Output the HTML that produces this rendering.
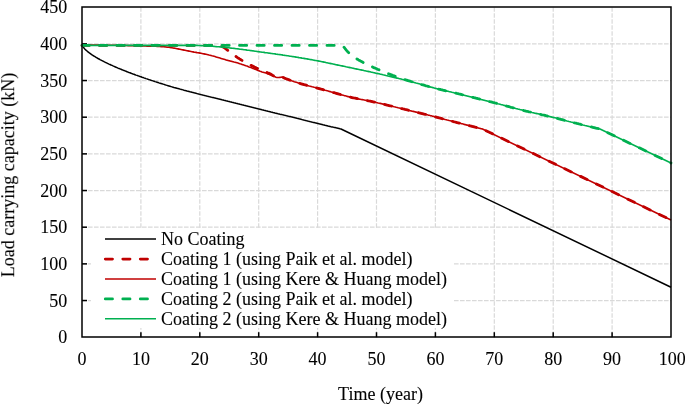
<!DOCTYPE html>
<html><head><meta charset="utf-8"><style>
html,body{margin:0;padding:0;background:#fff;width:685px;height:404px;overflow:hidden}
svg{display:block}
.g{stroke:#d9d9d9;stroke-width:1.2;stroke-dasharray:4.6 1.4;fill:none}
.ax{stroke:#000;stroke-width:1.5}
.dash{fill:none;stroke-width:2.8;stroke-dasharray:7.2 10.3;stroke-linecap:round;stroke-linejoin:round}
.t{font-family:"Liberation Serif",serif;font-size:18px;fill:#000;stroke:#000;stroke-width:0.1px}
text{will-change:transform}
</style></head><body>
<svg width="685" height="404" viewBox="0 0 685 404">
<line x1="82.0" y1="300.53" x2="671.0" y2="300.53" class="g"/>
<line x1="82.0" y1="263.87" x2="671.0" y2="263.87" class="g"/>
<line x1="82.0" y1="227.20" x2="671.0" y2="227.20" class="g"/>
<line x1="82.0" y1="190.53" x2="671.0" y2="190.53" class="g"/>
<line x1="82.0" y1="153.87" x2="671.0" y2="153.87" class="g"/>
<line x1="82.0" y1="117.20" x2="671.0" y2="117.20" class="g"/>
<line x1="82.0" y1="80.53" x2="671.0" y2="80.53" class="g"/>
<line x1="82.0" y1="43.87" x2="671.0" y2="43.87" class="g"/>
<line x1="140.90" y1="7.2" x2="140.90" y2="337.2" class="g"/>
<line x1="199.80" y1="7.2" x2="199.80" y2="337.2" class="g"/>
<line x1="258.70" y1="7.2" x2="258.70" y2="337.2" class="g"/>
<line x1="317.60" y1="7.2" x2="317.60" y2="337.2" class="g"/>
<line x1="376.50" y1="7.2" x2="376.50" y2="337.2" class="g"/>
<line x1="435.40" y1="7.2" x2="435.40" y2="337.2" class="g"/>
<line x1="494.30" y1="7.2" x2="494.30" y2="337.2" class="g"/>
<line x1="553.20" y1="7.2" x2="553.20" y2="337.2" class="g"/>
<line x1="612.10" y1="7.2" x2="612.10" y2="337.2" class="g"/>
<line x1="82.0" y1="300.53" x2="87.0" y2="300.53" class="ax"/>
<line x1="82.0" y1="263.87" x2="87.0" y2="263.87" class="ax"/>
<line x1="82.0" y1="227.20" x2="87.0" y2="227.20" class="ax"/>
<line x1="82.0" y1="190.53" x2="87.0" y2="190.53" class="ax"/>
<line x1="82.0" y1="153.87" x2="87.0" y2="153.87" class="ax"/>
<line x1="82.0" y1="117.20" x2="87.0" y2="117.20" class="ax"/>
<line x1="82.0" y1="80.53" x2="87.0" y2="80.53" class="ax"/>
<line x1="82.0" y1="43.87" x2="87.0" y2="43.87" class="ax"/>
<line x1="140.90" y1="337.2" x2="140.90" y2="332.2" class="ax"/>
<line x1="199.80" y1="337.2" x2="199.80" y2="332.2" class="ax"/>
<line x1="258.70" y1="337.2" x2="258.70" y2="332.2" class="ax"/>
<line x1="317.60" y1="337.2" x2="317.60" y2="332.2" class="ax"/>
<line x1="376.50" y1="337.2" x2="376.50" y2="332.2" class="ax"/>
<line x1="435.40" y1="337.2" x2="435.40" y2="332.2" class="ax"/>
<line x1="494.30" y1="337.2" x2="494.30" y2="332.2" class="ax"/>
<line x1="553.20" y1="337.2" x2="553.20" y2="332.2" class="ax"/>
<line x1="612.10" y1="337.2" x2="612.10" y2="332.2" class="ax"/>
<polyline points="82.0,44.3 83.0,46.7 84.0,48.1 85.0,49.2 86.0,50.2 87.0,51.0 88.0,51.9 89.0,52.7 90.0,53.4 91.0,54.1 92.0,54.8 93.0,55.5 94.0,56.1 95.0,56.7 96.0,57.3 97.0,57.9 98.0,58.5 99.0,59.0 100.0,59.6 101.0,60.1 102.0,60.6 103.0,61.1 104.0,61.7 105.0,62.2 106.0,62.6 107.0,63.1 108.0,63.6 109.0,64.1 110.0,64.5 111.0,65.0 112.0,65.4 113.0,65.9 114.0,66.3 115.0,66.8 116.0,67.2 117.0,67.6 118.0,68.1 119.0,68.5 120.0,68.9 121.0,69.3 122.0,69.7 123.0,70.1 124.0,70.5 125.0,70.9 126.0,71.3 127.0,71.7 128.0,72.1 129.0,72.5 130.0,72.8 131.0,73.2 132.0,73.6 133.0,74.0 134.0,74.3 135.0,74.7 136.0,75.1 137.0,75.4 138.0,75.8 139.0,76.1 140.0,76.5 141.0,76.8 142.0,77.2 143.0,77.5 144.0,77.9 145.0,78.2 146.0,78.6 147.0,78.9 148.0,79.3 149.0,79.6 150.0,79.9 151.0,80.3 152.0,80.6 153.0,80.9 154.0,81.2 155.0,81.6 156.0,81.9 157.0,82.2 158.0,82.5 159.0,82.9 160.0,83.2 161.0,83.5 162.0,83.8 163.0,84.1 164.0,84.4 165.0,84.8 166.0,85.1 167.0,85.4 168.0,85.7 169.0,86.0 170.0,86.3 171.0,86.6 172.0,86.9 173.0,87.2 174.0,87.5 175.0,87.7 176.0,88.0 177.0,88.3 178.0,88.6 179.0,88.8 180.0,89.1 181.0,89.4 182.0,89.6 183.0,89.9 184.0,90.2 185.0,90.4 186.0,90.7 187.0,91.0 188.0,91.2 189.0,91.5 190.0,91.8 191.0,92.0 192.0,92.3 193.0,92.6 194.0,92.8 195.0,93.1 196.0,93.3 197.0,93.6 198.0,93.9 199.0,94.1 200.0,94.4 201.0,94.6 202.0,94.9 203.0,95.1 204.0,95.4 205.0,95.6 206.0,95.9 207.0,96.1 208.0,96.4 209.0,96.6 210.0,96.9 211.0,97.1 212.0,97.4 213.0,97.6 214.0,97.8 215.0,98.1 216.0,98.3 217.0,98.6 218.0,98.8 219.0,99.1 220.0,99.3 221.0,99.5 222.0,99.8 223.0,100.0 224.0,100.3 225.0,100.5 226.0,100.8 227.0,101.0 228.0,101.3 229.0,101.5 230.0,101.8 231.0,102.0 232.0,102.3 233.0,102.5 234.0,102.8 235.0,103.0 236.0,103.3 237.0,103.5 238.0,103.8 239.0,104.0 240.0,104.3 241.0,104.5 242.0,104.8 243.0,105.0 244.0,105.3 245.0,105.5 246.0,105.8 247.0,106.1 248.0,106.3 249.0,106.6 250.0,106.8 251.0,107.1 252.0,107.3 253.0,107.6 254.0,107.8 255.0,108.1 256.0,108.3 257.0,108.6 258.0,108.8 259.0,109.1 260.0,109.3 261.0,109.5 262.0,109.8 263.0,110.0 264.0,110.3 265.0,110.5 266.0,110.8 267.0,111.0 268.0,111.3 269.0,111.5 270.0,111.7 271.0,112.0 272.0,112.2 273.0,112.5 274.0,112.7 275.0,113.0 276.0,113.2 277.0,113.4 278.0,113.7 279.0,113.9 280.0,114.2 281.0,114.4 282.0,114.6 283.0,114.9 284.0,115.1 285.0,115.4 286.0,115.6 287.0,115.9 288.0,116.1 289.0,116.4 290.0,116.6 291.0,116.8 292.0,117.1 293.0,117.3 294.0,117.6 295.0,117.8 296.0,118.1 297.0,118.3 298.0,118.6 299.0,118.8 300.0,119.1 301.0,119.3 302.0,119.6 303.0,119.9 304.0,120.1 305.0,120.4 306.0,120.6 307.0,120.9 308.0,121.1 309.0,121.4 310.0,121.6 311.0,121.9 312.0,122.1 313.0,122.4 314.0,122.6 315.0,122.8 316.0,123.1 317.0,123.3 318.0,123.6 319.0,123.8 320.0,124.1 321.0,124.3 322.0,124.5 323.0,124.8 324.0,125.0 325.0,125.3 326.0,125.5 327.0,125.7 328.0,126.0 329.0,126.2 330.0,126.4 331.0,126.7 332.0,126.9 333.0,127.1 334.0,127.4 335.0,127.6 336.0,127.8 337.0,128.1 338.0,128.3 339.0,128.5 340.0,128.8 341.0,129.0 671.0,287.2" fill="none" stroke="#000" stroke-width="1.5" stroke-linejoin="round"/>
<polyline points="82.0,45.4 83.0,45.4 84.0,45.4 85.0,45.4 86.0,45.4 87.0,45.4 88.0,45.4 89.0,45.4 90.0,45.4 91.0,45.4 92.0,45.4 93.0,45.4 94.0,45.4 95.0,45.4 96.0,45.4 97.0,45.4 98.0,45.4 99.0,45.4 100.0,45.4 101.0,45.4 102.0,45.4 103.0,45.4 104.0,45.4 105.0,45.4 106.0,45.4 107.0,45.4 108.0,45.4 109.0,45.4 110.0,45.4 111.0,45.4 112.0,45.4 113.0,45.4 114.0,45.4 115.0,45.4 116.0,45.4 117.0,45.4 118.0,45.4 119.0,45.4 120.0,45.4 121.0,45.4 122.0,45.4 123.0,45.4 124.0,45.4 125.0,45.4 126.0,45.4 127.0,45.4 128.0,45.4 129.0,45.4 130.0,45.4 131.0,45.4 132.0,45.4 133.0,45.4 134.0,45.4 135.0,45.4 136.0,45.4 137.0,45.4 138.0,45.4 139.0,45.4 140.0,45.4 141.0,45.4 142.0,45.4 143.0,45.4 144.0,45.4 145.0,45.4 146.0,45.4 147.0,45.4 148.0,45.4 149.0,45.4 150.0,45.4 151.0,45.4 152.0,45.4 153.0,45.4 154.0,45.4 155.0,45.4 156.0,45.4 157.0,45.4 158.0,45.4 159.0,45.4 160.0,45.4 161.0,45.4 162.0,45.4 163.0,45.4 164.0,45.4 165.0,45.4 166.0,45.4 167.0,45.4 168.0,45.4 169.0,45.4 170.0,45.4 171.0,45.4 172.0,45.4 173.0,45.4 174.0,45.4 175.0,45.4 176.0,45.4 177.0,45.4 178.0,45.4 179.0,45.4 180.0,45.4 181.0,45.4 182.0,45.4 183.0,45.4 184.0,45.4 185.0,45.4 186.0,45.4 187.0,45.4 188.0,45.4 189.0,45.4 190.0,45.4 191.0,45.4 192.0,45.4 193.0,45.4 194.0,45.4 195.0,45.4 196.0,45.4 197.0,45.4 198.0,45.4 199.0,45.4 200.0,45.4 201.0,45.4 202.0,45.4 203.0,45.4 204.0,45.4 205.0,45.4 206.0,45.4 207.0,45.4 208.0,45.4 209.0,45.4 210.0,45.4 211.0,45.4 212.0,45.4 213.0,45.4 214.0,45.4 215.0,45.4 216.0,45.3 217.0,45.3 218.0,45.3 219.0,45.4 220.0,45.5 220.5,45.6 221.5,46.1 222.5,46.6 223.5,47.2 224.5,47.8 225.5,48.5 226.5,49.3 227.5,50.1 228.5,50.9 229.5,51.7 230.5,52.4 231.5,53.2 232.5,54.0 233.5,54.7 234.5,55.5 235.5,56.2 236.5,56.9 237.5,57.6 238.5,58.2 239.5,58.9 240.5,59.5 241.5,60.1 242.5,60.7 243.5,61.3 244.5,61.8 245.5,62.4 246.5,63.0 247.5,63.5 248.5,64.0 249.5,64.6 250.5,65.1 251.5,65.6 252.5,66.1 253.5,66.6 254.5,67.1 255.5,67.5 256.5,68.0 257.5,68.4 258.5,68.9 259.5,69.3 260.5,69.7 261.5,70.1 262.5,70.5 263.5,71.0 264.5,71.4 265.5,71.8 266.5,72.2 267.5,72.7 268.5,73.1 269.5,73.6 270.5,74.1 271.5,74.6 272.5,75.2 273.5,75.7 274.5,76.1 275.5,76.7 276.5,77.1 277.5,77.3 278.5,77.3 279.5,77.3 280.5,77.2 281.5,77.2 282.2,77.1 283.2,77.5 284.2,77.9 285.2,78.4 286.2,78.8 287.2,79.1 288.2,79.5 289.2,79.9 290.2,80.3 291.2,80.6 292.2,81.0 293.2,81.3 294.2,81.7 295.2,82.0 296.2,82.3 297.2,82.6 298.2,82.9 299.2,83.2 300.2,83.5 301.2,83.8 302.2,84.1 303.2,84.4 304.2,84.7 305.2,84.9 306.2,85.2 307.2,85.5 308.2,85.7 309.2,86.0 310.2,86.2 311.2,86.5 312.2,86.8 313.2,87.0 314.2,87.3 315.2,87.5 316.2,87.8 317.2,88.1 318.2,88.3 319.2,88.6 320.2,88.9 321.2,89.2 322.2,89.4 323.2,89.7 324.2,90.0 325.2,90.3 326.2,90.5 327.2,90.8 328.2,91.1 329.2,91.4 330.2,91.6 331.2,91.9 332.2,92.2 333.2,92.5 334.2,92.7 335.2,93.0 336.2,93.3 337.2,93.6 338.2,93.9 339.2,94.2 340.2,94.4 341.2,94.7 342.2,95.0 343.2,95.3 344.2,95.6 345.2,95.8 346.2,96.1 347.2,96.4 348.2,96.6 349.2,96.9 350.2,97.1 351.2,97.3 352.2,97.6 353.2,97.8 354.2,98.0 355.2,98.2 356.2,98.4 357.2,98.6 358.2,98.9 359.2,99.1 360.2,99.3 361.2,99.5 362.2,99.6 363.2,99.8 364.2,100.0 365.2,100.2 366.2,100.4 367.2,100.6 368.2,100.8 369.2,101.0 370.2,101.2 371.2,101.4 372.2,101.6 373.2,101.8 374.2,102.1 375.2,102.3 376.2,102.5 377.2,102.7 378.2,103.0 379.2,103.2 380.2,103.4 381.2,103.6 382.2,103.9 383.2,104.1 384.2,104.4 385.2,104.6 386.2,104.8 387.2,105.1 388.2,105.3 389.2,105.6 390.2,105.8 391.2,106.0 392.2,106.3 393.2,106.5 394.2,106.8 395.2,107.0 396.2,107.3 397.2,107.5 398.2,107.8 399.2,108.0 400.2,108.2 401.2,108.5 402.2,108.7 403.2,109.0 404.2,109.2 405.2,109.5 406.2,109.7 407.2,109.9 408.2,110.2 409.2,110.4 410.2,110.7 411.2,110.9 412.2,111.2 413.2,111.4 414.2,111.6 415.2,111.9 416.2,112.1 417.2,112.4 418.2,112.6 419.2,112.9 420.2,113.1 421.2,113.4 422.2,113.6 423.2,113.8 424.2,114.1 425.2,114.3 426.2,114.6 427.2,114.8 428.2,115.1 429.2,115.3 430.2,115.6 431.2,115.8 432.2,116.1 433.2,116.3 434.2,116.6 435.2,116.8 436.2,117.1 437.2,117.4 438.2,117.6 439.2,117.9 440.2,118.1 441.2,118.4 442.2,118.7 443.2,118.9 444.2,119.2 445.2,119.5 446.2,119.7 447.2,120.0 448.2,120.2 449.2,120.5 450.2,120.7 451.2,121.0 452.2,121.3 453.2,121.5 454.2,121.8 455.2,122.0 456.2,122.3 457.2,122.6 458.2,122.8 459.2,123.1 460.2,123.3 461.2,123.6 462.2,123.8 463.2,124.1 464.2,124.4 465.2,124.6 466.2,124.9 467.2,125.1 468.2,125.4 469.2,125.6 470.2,125.9 471.2,126.1 472.2,126.4 473.2,126.6 474.2,126.9 475.2,127.2 476.2,127.4 477.2,127.7 478.2,127.9 479.2,128.2 480.2,128.4 481.2,128.7 482.2,128.9 482.5,129.0 671.0,220.0" class="dash" stroke="#C00000"/>
<polyline points="82.0,45.0 83.0,45.0 84.0,45.0 85.0,45.0 86.0,45.0 87.0,45.0 88.0,45.0 89.0,45.0 90.0,45.0 91.0,45.0 92.0,45.0 93.0,45.0 94.0,45.0 95.0,45.1 96.0,45.1 97.0,45.1 98.0,45.1 99.0,45.1 100.0,45.1 101.0,45.1 102.0,45.1 103.0,45.1 104.0,45.1 105.0,45.1 106.0,45.2 107.0,45.2 108.0,45.2 109.0,45.2 110.0,45.2 111.0,45.2 112.0,45.2 113.0,45.2 114.0,45.3 115.0,45.3 116.0,45.3 117.0,45.3 118.0,45.3 119.0,45.3 120.0,45.4 121.0,45.4 122.0,45.4 123.0,45.4 124.0,45.5 125.0,45.5 126.0,45.5 127.0,45.5 128.0,45.6 129.0,45.6 130.0,45.6 131.0,45.6 132.0,45.6 133.0,45.7 134.0,45.7 135.0,45.7 136.0,45.8 137.0,45.8 138.0,45.8 139.0,45.8 140.0,45.9 141.0,45.9 142.0,45.9 143.0,45.9 144.0,46.0 145.0,46.0 146.0,46.0 147.0,46.1 148.0,46.1 149.0,46.1 150.0,46.1 151.0,46.2 152.0,46.2 153.0,46.2 154.0,46.3 155.0,46.3 156.0,46.3 157.0,46.4 158.0,46.4 159.0,46.4 160.0,46.5 161.0,46.6 162.0,46.6 163.0,46.7 164.0,46.8 165.0,46.9 166.0,47.0 167.0,47.1 168.0,47.2 169.0,47.3 170.0,47.5 171.0,47.6 172.0,47.8 173.0,48.0 174.0,48.1 175.0,48.3 176.0,48.5 177.0,48.7 178.0,48.9 179.0,49.1 180.0,49.3 181.0,49.5 182.0,49.7 183.0,49.9 184.0,50.1 185.0,50.3 186.0,50.5 187.0,50.7 188.0,50.9 189.0,51.1 190.0,51.3 191.0,51.5 192.0,51.7 193.0,51.9 194.0,52.1 195.0,52.2 196.0,52.4 197.0,52.6 198.0,52.7 199.0,52.9 200.0,53.1 201.0,53.3 202.0,53.5 203.0,53.7 204.0,53.9 205.0,54.1 206.0,54.3 207.0,54.5 208.0,54.7 209.0,55.0 210.0,55.2 211.0,55.5 212.0,55.8 213.0,56.0 214.0,56.3 215.0,56.6 216.0,56.9 217.0,57.2 218.0,57.5 219.0,57.8 220.0,58.1 221.0,58.4 222.0,58.7 223.0,59.0 224.0,59.3 225.0,59.6 226.0,59.9 227.0,60.2 228.0,60.4 229.0,60.7 230.0,60.9 231.0,61.2 232.0,61.4 233.0,61.7 234.0,62.0 235.0,62.2 236.0,62.5 237.0,62.8 238.0,63.1 239.0,63.4 240.0,63.8 241.0,64.1 242.0,64.4 243.0,64.7 244.0,65.1 245.0,65.4 246.0,65.8 247.0,66.1 248.0,66.5 249.0,66.9 250.0,67.2 251.0,67.6 252.0,68.0 253.0,68.4 254.0,68.8 255.0,69.2 256.0,69.6 257.0,70.0 258.0,70.4 259.0,70.8 260.0,71.2 261.0,71.5 262.0,71.9 263.0,72.2 264.0,72.5 265.0,72.8 266.0,73.1 267.0,73.5 268.0,73.9 269.0,74.3 270.0,74.7 271.0,75.1 272.0,75.6 273.0,76.0 274.0,76.4 275.0,76.8 276.0,77.2 277.0,77.5 278.0,77.5 279.0,77.5 280.0,77.4 281.0,77.3 282.0,77.1 282.2,77.1 283.2,77.5 284.2,77.9 285.2,78.4 286.2,78.8 287.2,79.1 288.2,79.5 289.2,79.9 290.2,80.3 291.2,80.6 292.2,81.0 293.2,81.3 294.2,81.7 295.2,82.0 296.2,82.3 297.2,82.6 298.2,82.9 299.2,83.2 300.2,83.5 301.2,83.8 302.2,84.1 303.2,84.4 304.2,84.7 305.2,84.9 306.2,85.2 307.2,85.5 308.2,85.7 309.2,86.0 310.2,86.2 311.2,86.5 312.2,86.8 313.2,87.0 314.2,87.3 315.2,87.5 316.2,87.8 317.2,88.1 318.2,88.3 319.2,88.6 320.2,88.9 321.2,89.2 322.2,89.4 323.2,89.7 324.2,90.0 325.2,90.3 326.2,90.5 327.2,90.8 328.2,91.1 329.2,91.4 330.2,91.6 331.2,91.9 332.2,92.2 333.2,92.5 334.2,92.7 335.2,93.0 336.2,93.3 337.2,93.6 338.2,93.9 339.2,94.2 340.2,94.4 341.2,94.7 342.2,95.0 343.2,95.3 344.2,95.6 345.2,95.8 346.2,96.1 347.2,96.4 348.2,96.6 349.2,96.9 350.2,97.1 351.2,97.3 352.2,97.6 353.2,97.8 354.2,98.0 355.2,98.2 356.2,98.4 357.2,98.6 358.2,98.9 359.2,99.1 360.2,99.3 361.2,99.5 362.2,99.6 363.2,99.8 364.2,100.0 365.2,100.2 366.2,100.4 367.2,100.6 368.2,100.8 369.2,101.0 370.2,101.2 371.2,101.4 372.2,101.6 373.2,101.8 374.2,102.1 375.2,102.3 376.2,102.5 377.2,102.7 378.2,103.0 379.2,103.2 380.2,103.4 381.2,103.6 382.2,103.9 383.2,104.1 384.2,104.4 385.2,104.6 386.2,104.8 387.2,105.1 388.2,105.3 389.2,105.6 390.2,105.8 391.2,106.0 392.2,106.3 393.2,106.5 394.2,106.8 395.2,107.0 396.2,107.3 397.2,107.5 398.2,107.8 399.2,108.0 400.2,108.2 401.2,108.5 402.2,108.7 403.2,109.0 404.2,109.2 405.2,109.5 406.2,109.7 407.2,109.9 408.2,110.2 409.2,110.4 410.2,110.7 411.2,110.9 412.2,111.2 413.2,111.4 414.2,111.6 415.2,111.9 416.2,112.1 417.2,112.4 418.2,112.6 419.2,112.9 420.2,113.1 421.2,113.4 422.2,113.6 423.2,113.8 424.2,114.1 425.2,114.3 426.2,114.6 427.2,114.8 428.2,115.1 429.2,115.3 430.2,115.6 431.2,115.8 432.2,116.1 433.2,116.3 434.2,116.6 435.2,116.8 436.2,117.1 437.2,117.4 438.2,117.6 439.2,117.9 440.2,118.1 441.2,118.4 442.2,118.7 443.2,118.9 444.2,119.2 445.2,119.5 446.2,119.7 447.2,120.0 448.2,120.2 449.2,120.5 450.2,120.7 451.2,121.0 452.2,121.3 453.2,121.5 454.2,121.8 455.2,122.0 456.2,122.3 457.2,122.6 458.2,122.8 459.2,123.1 460.2,123.3 461.2,123.6 462.2,123.8 463.2,124.1 464.2,124.4 465.2,124.6 466.2,124.9 467.2,125.1 468.2,125.4 469.2,125.6 470.2,125.9 471.2,126.1 472.2,126.4 473.2,126.6 474.2,126.9 475.2,127.2 476.2,127.4 477.2,127.7 478.2,127.9 479.2,128.2 480.2,128.4 481.2,128.7 482.2,128.9 482.5,129.0 671.0,220.0" fill="none" stroke="#C00000" stroke-width="1.6" stroke-linejoin="round"/>
<polyline points="82.0,45.4 83.0,45.4 84.0,45.4 85.0,45.4 86.0,45.4 87.0,45.4 88.0,45.4 89.0,45.4 90.0,45.4 91.0,45.4 92.0,45.4 93.0,45.4 94.0,45.4 95.0,45.4 96.0,45.4 97.0,45.4 98.0,45.4 99.0,45.4 100.0,45.4 101.0,45.4 102.0,45.4 103.0,45.4 104.0,45.4 105.0,45.4 106.0,45.4 107.0,45.4 108.0,45.4 109.0,45.4 110.0,45.4 111.0,45.4 112.0,45.4 113.0,45.4 114.0,45.4 115.0,45.4 116.0,45.4 117.0,45.4 118.0,45.4 119.0,45.4 120.0,45.4 121.0,45.4 122.0,45.4 123.0,45.4 124.0,45.4 125.0,45.4 126.0,45.4 127.0,45.4 128.0,45.4 129.0,45.4 130.0,45.4 131.0,45.4 132.0,45.4 133.0,45.4 134.0,45.4 135.0,45.4 136.0,45.4 137.0,45.4 138.0,45.4 139.0,45.4 140.0,45.4 141.0,45.4 142.0,45.4 143.0,45.4 144.0,45.4 145.0,45.4 146.0,45.4 147.0,45.4 148.0,45.4 149.0,45.4 150.0,45.4 151.0,45.4 152.0,45.4 153.0,45.4 154.0,45.4 155.0,45.4 156.0,45.4 157.0,45.4 158.0,45.4 159.0,45.4 160.0,45.4 161.0,45.4 162.0,45.4 163.0,45.4 164.0,45.4 165.0,45.4 166.0,45.4 167.0,45.4 168.0,45.4 169.0,45.4 170.0,45.4 171.0,45.4 172.0,45.4 173.0,45.4 174.0,45.4 175.0,45.4 176.0,45.4 177.0,45.4 178.0,45.4 179.0,45.4 180.0,45.4 181.0,45.4 182.0,45.4 183.0,45.4 184.0,45.4 185.0,45.4 186.0,45.4 187.0,45.4 188.0,45.4 189.0,45.4 190.0,45.4 191.0,45.4 192.0,45.4 193.0,45.4 194.0,45.4 195.0,45.4 196.0,45.4 197.0,45.4 198.0,45.4 199.0,45.4 200.0,45.4 201.0,45.4 202.0,45.4 203.0,45.4 204.0,45.4 205.0,45.4 206.0,45.4 207.0,45.4 208.0,45.4 209.0,45.4 210.0,45.4 211.0,45.4 212.0,45.4 213.0,45.4 214.0,45.4 215.0,45.4 216.0,45.4 217.0,45.4 218.0,45.4 219.0,45.4 220.0,45.4 221.0,45.4 222.0,45.4 223.0,45.4 224.0,45.4 225.0,45.4 226.0,45.4 227.0,45.4 228.0,45.4 229.0,45.4 230.0,45.4 231.0,45.4 232.0,45.4 233.0,45.4 234.0,45.4 235.0,45.4 236.0,45.4 237.0,45.4 238.0,45.4 239.0,45.4 240.0,45.4 241.0,45.4 242.0,45.4 243.0,45.4 244.0,45.4 245.0,45.4 246.0,45.4 247.0,45.4 248.0,45.4 249.0,45.4 250.0,45.4 251.0,45.4 252.0,45.4 253.0,45.4 254.0,45.4 255.0,45.4 256.0,45.4 257.0,45.4 258.0,45.4 259.0,45.4 260.0,45.4 261.0,45.4 262.0,45.4 263.0,45.4 264.0,45.4 265.0,45.4 266.0,45.4 267.0,45.4 268.0,45.4 269.0,45.4 270.0,45.4 271.0,45.4 272.0,45.4 273.0,45.4 274.0,45.4 275.0,45.4 276.0,45.4 277.0,45.4 278.0,45.4 279.0,45.4 280.0,45.4 281.0,45.4 282.0,45.4 283.0,45.4 284.0,45.4 285.0,45.4 286.0,45.4 287.0,45.4 288.0,45.4 289.0,45.4 290.0,45.4 291.0,45.4 292.0,45.4 293.0,45.4 294.0,45.4 295.0,45.4 296.0,45.4 297.0,45.4 298.0,45.4 299.0,45.4 300.0,45.4 301.0,45.4 302.0,45.4 303.0,45.4 304.0,45.4 305.0,45.4 306.0,45.4 307.0,45.4 308.0,45.4 309.0,45.4 310.0,45.4 311.0,45.4 312.0,45.4 313.0,45.4 314.0,45.4 315.0,45.4 316.0,45.4 317.0,45.4 318.0,45.4 319.0,45.4 320.0,45.4 321.0,45.4 322.0,45.4 323.0,45.4 324.0,45.4 325.0,45.4 326.0,45.4 327.0,45.4 328.0,45.4 329.0,45.4 330.0,45.4 331.0,45.4 332.0,45.4 333.0,45.4 334.0,45.4 335.0,45.4 336.0,45.4 337.0,45.4 338.0,45.4 339.0,45.4 340.0,45.5 340.5,45.5 341.5,45.8 342.5,46.2 343.5,46.8 344.5,47.8 345.5,49.2 346.5,50.4 347.5,51.5 348.5,52.5 349.5,53.5 350.5,54.4 351.5,55.2 352.5,56.0 353.5,56.7 354.5,57.4 355.5,58.0 356.5,58.7 357.5,59.3 358.5,59.9 359.5,60.4 360.5,61.0 361.5,61.5 362.5,62.1 363.5,62.6 364.5,63.1 365.5,63.6 366.5,64.1 367.5,64.6 368.5,65.1 369.5,65.6 370.5,66.0 371.5,66.5 372.5,66.9 373.5,67.4 374.5,67.9 375.5,68.3 376.5,68.7 377.5,69.2 378.5,69.6 379.5,70.1 380.5,70.5 381.5,70.9 382.5,71.3 383.5,71.7 384.5,72.2 385.5,72.6 386.5,73.0 387.5,73.4 388.5,73.8 389.5,74.1 390.5,74.5 391.5,74.9 392.5,75.3 393.5,75.6 394.5,76.0 395.5,76.4 396.5,76.7 397.5,77.1 398.5,77.4 399.5,77.8 400.5,78.1 401.5,78.5 402.5,78.8 403.5,79.2 404.5,79.5 405.5,79.8 406.5,80.1 407.5,80.4 408.0,80.6 409.0,80.9 410.0,81.2 411.0,81.5 412.0,81.8 413.0,82.1 414.0,82.4 415.0,82.7 416.0,83.0 417.0,83.2 418.0,83.5 419.0,83.8 420.0,84.1 421.0,84.4 422.0,84.7 423.0,84.9 424.0,85.2 425.0,85.5 426.0,85.8 427.0,86.0 428.0,86.3 429.0,86.6 430.0,86.9 431.0,87.1 432.0,87.4 433.0,87.6 434.0,87.9 435.0,88.2 436.0,88.4 437.0,88.7 438.0,88.9 439.0,89.2 440.0,89.4 441.0,89.7 442.0,89.9 443.0,90.2 444.0,90.4 445.0,90.6 446.0,90.9 447.0,91.1 448.0,91.3 449.0,91.6 450.0,91.8 451.0,92.0 452.0,92.3 453.0,92.5 454.0,92.8 455.0,93.0 456.0,93.2 457.0,93.5 458.0,93.7 459.0,94.0 460.0,94.2 461.0,94.4 462.0,94.7 463.0,94.9 464.0,95.2 465.0,95.4 466.0,95.7 467.0,95.9 468.0,96.2 469.0,96.4 470.0,96.7 471.0,96.9 472.0,97.2 473.0,97.4 474.0,97.7 475.0,97.9 476.0,98.2 477.0,98.4 478.0,98.7 479.0,98.9 480.0,99.2 481.0,99.4 482.0,99.7 483.0,99.9 484.0,100.2 485.0,100.4 486.0,100.7 487.0,100.9 488.0,101.2 489.0,101.4 490.0,101.7 491.0,101.9 492.0,102.2 493.0,102.5 494.0,102.7 495.0,103.0 496.0,103.2 497.0,103.5 498.0,103.8 499.0,104.0 500.0,104.3 501.0,104.6 502.0,104.8 503.0,105.1 504.0,105.4 505.0,105.6 506.0,105.9 507.0,106.2 508.0,106.4 509.0,106.7 510.0,107.0 511.0,107.3 512.0,107.5 513.0,107.8 514.0,108.1 515.0,108.3 516.0,108.6 517.0,108.8 518.0,109.1 519.0,109.3 520.0,109.6 521.0,109.8 522.0,110.1 523.0,110.3 524.0,110.6 525.0,110.8 526.0,111.1 527.0,111.3 528.0,111.5 529.0,111.8 530.0,112.0 531.0,112.2 532.0,112.5 533.0,112.7 534.0,112.9 535.0,113.2 536.0,113.4 537.0,113.6 538.0,113.8 539.0,114.1 540.0,114.3 541.0,114.5 542.0,114.8 543.0,115.0 544.0,115.2 545.0,115.4 546.0,115.7 547.0,115.9 548.0,116.2 549.0,116.4 550.0,116.6 551.0,116.9 552.0,117.1 553.0,117.4 554.0,117.6 555.0,117.8 556.0,118.1 557.0,118.4 558.0,118.6 559.0,118.9 560.0,119.1 561.0,119.4 562.0,119.6 563.0,119.9 564.0,120.2 565.0,120.4 566.0,120.7 567.0,121.0 568.0,121.2 569.0,121.5 570.0,121.7 571.0,122.0 572.0,122.2 573.0,122.5 574.0,122.8 575.0,123.0 576.0,123.2 577.0,123.5 578.0,123.7 579.0,124.0 580.0,124.2 581.0,124.5 582.0,124.7 583.0,125.0 584.0,125.2 585.0,125.5 586.0,125.7 587.0,125.9 588.0,126.2 589.0,126.4 590.0,126.7 591.0,126.9 592.0,127.1 593.0,127.4 594.0,127.6 595.0,127.8 596.0,128.1 597.0,128.3 598.0,128.5 599.0,128.8 600.0,129.0 671.0,163.0" class="dash" stroke="#00B050"/>
<polyline points="82.0,45.4 83.0,45.4 84.0,45.4 85.0,45.4 86.0,45.4 87.0,45.4 88.0,45.4 89.0,45.4 90.0,45.4 91.0,45.4 92.0,45.4 93.0,45.4 94.0,45.4 95.0,45.4 96.0,45.4 97.0,45.4 98.0,45.4 99.0,45.4 100.0,45.4 101.0,45.4 102.0,45.4 103.0,45.4 104.0,45.4 105.0,45.4 106.0,45.4 107.0,45.4 108.0,45.4 109.0,45.4 110.0,45.4 111.0,45.4 112.0,45.4 113.0,45.4 114.0,45.4 115.0,45.4 116.0,45.4 117.0,45.4 118.0,45.4 119.0,45.4 120.0,45.4 121.0,45.4 122.0,45.4 123.0,45.4 124.0,45.4 125.0,45.4 126.0,45.4 127.0,45.4 128.0,45.4 129.0,45.4 130.0,45.4 131.0,45.4 132.0,45.4 133.0,45.4 134.0,45.4 135.0,45.4 136.0,45.4 137.0,45.4 138.0,45.4 139.0,45.4 140.0,45.4 141.0,45.4 142.0,45.4 143.0,45.4 144.0,45.4 145.0,45.4 146.0,45.4 147.0,45.4 148.0,45.4 149.0,45.4 150.0,45.4 151.0,45.4 152.0,45.4 153.0,45.4 154.0,45.4 155.0,45.4 156.0,45.4 157.0,45.4 158.0,45.4 159.0,45.4 160.0,45.4 161.0,45.4 162.0,45.4 163.0,45.4 164.0,45.4 165.0,45.4 166.0,45.4 167.0,45.4 168.0,45.4 169.0,45.4 170.0,45.4 171.0,45.4 172.0,45.4 173.0,45.4 174.0,45.4 175.0,45.4 176.0,45.4 177.0,45.4 178.0,45.4 179.0,45.4 180.0,45.4 181.0,45.4 182.0,45.4 183.0,45.4 184.0,45.4 185.0,45.4 186.0,45.4 187.0,45.4 188.0,45.4 189.0,45.4 190.0,45.4 191.0,45.4 192.0,45.4 193.0,45.4 194.0,45.4 195.0,45.4 196.0,45.4 197.0,45.4 198.0,45.5 199.0,45.5 200.0,45.5 201.0,45.6 202.0,45.6 203.0,45.7 204.0,45.7 205.0,45.8 206.0,45.9 207.0,45.9 208.0,46.0 209.0,46.0 210.0,46.1 211.0,46.2 212.0,46.3 213.0,46.3 214.0,46.4 215.0,46.5 216.0,46.6 217.0,46.7 218.0,46.8 219.0,46.8 220.0,46.9 221.0,47.0 222.0,47.1 223.0,47.2 224.0,47.3 225.0,47.4 226.0,47.5 227.0,47.6 228.0,47.7 229.0,47.8 230.0,48.0 231.0,48.1 232.0,48.2 233.0,48.3 234.0,48.4 235.0,48.5 236.0,48.7 237.0,48.8 238.0,48.9 239.0,49.0 240.0,49.2 241.0,49.3 242.0,49.4 243.0,49.5 244.0,49.7 245.0,49.8 246.0,49.9 247.0,50.1 248.0,50.2 249.0,50.3 250.0,50.5 251.0,50.6 252.0,50.8 253.0,50.9 254.0,51.0 255.0,51.2 256.0,51.3 257.0,51.5 258.0,51.6 259.0,51.7 260.0,51.9 261.0,52.0 262.0,52.2 263.0,52.3 264.0,52.4 265.0,52.6 266.0,52.7 267.0,52.8 268.0,53.0 269.0,53.1 270.0,53.2 271.0,53.4 272.0,53.5 273.0,53.7 274.0,53.8 275.0,53.9 276.0,54.1 277.0,54.2 278.0,54.4 279.0,54.5 280.0,54.6 281.0,54.8 282.0,54.9 283.0,55.1 284.0,55.2 285.0,55.4 286.0,55.5 287.0,55.7 288.0,55.8 289.0,56.0 290.0,56.2 291.0,56.3 292.0,56.5 293.0,56.6 294.0,56.8 295.0,56.9 296.0,57.1 297.0,57.3 298.0,57.4 299.0,57.6 300.0,57.7 301.0,57.9 302.0,58.1 303.0,58.2 304.0,58.4 305.0,58.6 306.0,58.8 307.0,58.9 308.0,59.1 309.0,59.3 310.0,59.5 311.0,59.6 312.0,59.8 313.0,60.0 314.0,60.2 315.0,60.4 316.0,60.5 317.0,60.7 318.0,60.9 319.0,61.1 320.0,61.3 321.0,61.5 322.0,61.7 323.0,61.9 324.0,62.1 325.0,62.3 326.0,62.6 327.0,62.8 328.0,63.0 329.0,63.2 330.0,63.4 331.0,63.6 332.0,63.8 333.0,64.0 334.0,64.2 335.0,64.4 336.0,64.7 337.0,64.9 338.0,65.1 339.0,65.3 340.0,65.5 341.0,65.7 342.0,65.9 343.0,66.1 344.0,66.3 345.0,66.5 346.0,66.8 347.0,67.0 348.0,67.2 349.0,67.4 350.0,67.6 351.0,67.8 352.0,68.0 353.0,68.2 354.0,68.4 355.0,68.7 356.0,68.9 357.0,69.1 358.0,69.3 359.0,69.5 360.0,69.7 361.0,69.9 362.0,70.1 363.0,70.3 364.0,70.6 365.0,70.8 366.0,71.0 367.0,71.2 368.0,71.4 369.0,71.6 370.0,71.8 371.0,72.1 372.0,72.3 373.0,72.5 374.0,72.7 375.0,72.9 376.0,73.2 377.0,73.4 378.0,73.6 379.0,73.8 380.0,74.1 381.0,74.3 382.0,74.5 383.0,74.8 384.0,75.0 385.0,75.2 386.0,75.5 387.0,75.7 388.0,76.0 389.0,76.2 390.0,76.4 391.0,76.7 392.0,76.9 393.0,77.2 394.0,77.4 395.0,77.6 396.0,77.9 397.0,78.1 398.0,78.3 399.0,78.6 400.0,78.8 401.0,79.0 402.0,79.3 403.0,79.5 404.0,79.7 405.0,79.9 406.0,80.2 407.0,80.4 408.0,80.6 409.0,80.9 410.0,81.2 411.0,81.5 412.0,81.8 413.0,82.1 414.0,82.4 415.0,82.7 416.0,83.0 417.0,83.2 418.0,83.5 419.0,83.8 420.0,84.1 421.0,84.4 422.0,84.7 423.0,84.9 424.0,85.2 425.0,85.5 426.0,85.8 427.0,86.0 428.0,86.3 429.0,86.6 430.0,86.9 431.0,87.1 432.0,87.4 433.0,87.6 434.0,87.9 435.0,88.2 436.0,88.4 437.0,88.7 438.0,88.9 439.0,89.2 440.0,89.4 441.0,89.7 442.0,89.9 443.0,90.2 444.0,90.4 445.0,90.6 446.0,90.9 447.0,91.1 448.0,91.3 449.0,91.6 450.0,91.8 451.0,92.0 452.0,92.3 453.0,92.5 454.0,92.8 455.0,93.0 456.0,93.2 457.0,93.5 458.0,93.7 459.0,94.0 460.0,94.2 461.0,94.4 462.0,94.7 463.0,94.9 464.0,95.2 465.0,95.4 466.0,95.7 467.0,95.9 468.0,96.2 469.0,96.4 470.0,96.7 471.0,96.9 472.0,97.2 473.0,97.4 474.0,97.7 475.0,97.9 476.0,98.2 477.0,98.4 478.0,98.7 479.0,98.9 480.0,99.2 481.0,99.4 482.0,99.7 483.0,99.9 484.0,100.2 485.0,100.4 486.0,100.7 487.0,100.9 488.0,101.2 489.0,101.4 490.0,101.7 491.0,101.9 492.0,102.2 493.0,102.5 494.0,102.7 495.0,103.0 496.0,103.2 497.0,103.5 498.0,103.8 499.0,104.0 500.0,104.3 501.0,104.6 502.0,104.8 503.0,105.1 504.0,105.4 505.0,105.6 506.0,105.9 507.0,106.2 508.0,106.4 509.0,106.7 510.0,107.0 511.0,107.3 512.0,107.5 513.0,107.8 514.0,108.1 515.0,108.3 516.0,108.6 517.0,108.8 518.0,109.1 519.0,109.3 520.0,109.6 521.0,109.8 522.0,110.1 523.0,110.3 524.0,110.6 525.0,110.8 526.0,111.1 527.0,111.3 528.0,111.5 529.0,111.8 530.0,112.0 531.0,112.2 532.0,112.5 533.0,112.7 534.0,112.9 535.0,113.2 536.0,113.4 537.0,113.6 538.0,113.8 539.0,114.1 540.0,114.3 541.0,114.5 542.0,114.8 543.0,115.0 544.0,115.2 545.0,115.4 546.0,115.7 547.0,115.9 548.0,116.2 549.0,116.4 550.0,116.6 551.0,116.9 552.0,117.1 553.0,117.4 554.0,117.6 555.0,117.8 556.0,118.1 557.0,118.4 558.0,118.6 559.0,118.9 560.0,119.1 561.0,119.4 562.0,119.6 563.0,119.9 564.0,120.2 565.0,120.4 566.0,120.7 567.0,121.0 568.0,121.2 569.0,121.5 570.0,121.7 571.0,122.0 572.0,122.2 573.0,122.5 574.0,122.8 575.0,123.0 576.0,123.2 577.0,123.5 578.0,123.7 579.0,124.0 580.0,124.2 581.0,124.5 582.0,124.7 583.0,125.0 584.0,125.2 585.0,125.5 586.0,125.7 587.0,125.9 588.0,126.2 589.0,126.4 590.0,126.7 591.0,126.9 592.0,127.1 593.0,127.4 594.0,127.6 595.0,127.8 596.0,128.1 597.0,128.3 598.0,128.5 599.0,128.8 600.0,129.0 671.0,163.0" fill="none" stroke="#00B050" stroke-width="1.6" stroke-linejoin="round"/>
<path d="M82,337 L82,7 L671,7 L671,337 Z" fill="none" stroke="#000" stroke-width="1.5"/>
<rect x="91" y="228.5" width="362.5" height="99.5" fill="#fff"/>
<line x1="105" y1="239.10" x2="156" y2="239.10" stroke="#000" stroke-width="1.5"/>
<text x="161" y="245.10" class="t">No Coating</text>
<line x1="105.3" y1="259.03" x2="156" y2="259.03" class="dash" stroke="#C00000"/>
<text x="161" y="265.03" class="t">Coating 1 (using Paik et al. model)</text>
<line x1="105" y1="278.96" x2="156" y2="278.96" stroke="#C00000" stroke-width="1.6"/>
<text x="161" y="284.96" class="t">Coating 1 (using Kere &amp; Huang model)</text>
<line x1="105.3" y1="298.89" x2="156" y2="298.89" class="dash" stroke="#00B050"/>
<text x="161" y="304.89" class="t">Coating 2 (using Paik et al. model)</text>
<line x1="105" y1="318.82" x2="156" y2="318.82" stroke="#00B050" stroke-width="1.6"/>
<text x="161" y="324.82" class="t">Coating 2 (using Kere &amp; Huang model)</text>
<text x="67.3" y="343.40" class="t" text-anchor="end">0</text>
<text x="67.3" y="306.73" class="t" text-anchor="end">50</text>
<text x="67.3" y="270.07" class="t" text-anchor="end">100</text>
<text x="67.3" y="233.40" class="t" text-anchor="end">150</text>
<text x="67.3" y="196.73" class="t" text-anchor="end">200</text>
<text x="67.3" y="160.07" class="t" text-anchor="end">250</text>
<text x="67.3" y="123.40" class="t" text-anchor="end">300</text>
<text x="67.3" y="86.73" class="t" text-anchor="end">350</text>
<text x="67.3" y="50.07" class="t" text-anchor="end">400</text>
<text x="67.3" y="13.40" class="t" text-anchor="end">450</text>
<text x="82.00" y="365" class="t" text-anchor="middle">0</text>
<text x="140.90" y="365" class="t" text-anchor="middle">10</text>
<text x="199.80" y="365" class="t" text-anchor="middle">20</text>
<text x="258.70" y="365" class="t" text-anchor="middle">30</text>
<text x="317.60" y="365" class="t" text-anchor="middle">40</text>
<text x="376.50" y="365" class="t" text-anchor="middle">50</text>
<text x="435.40" y="365" class="t" text-anchor="middle">60</text>
<text x="494.30" y="365" class="t" text-anchor="middle">70</text>
<text x="553.20" y="365" class="t" text-anchor="middle">80</text>
<text x="612.10" y="365" class="t" text-anchor="middle">90</text>
<text x="672.30" y="365" class="t" text-anchor="middle">100</text>
<text x="380.5" y="399.7" class="t" text-anchor="middle">Time (year)</text>
<text transform="translate(14.2,175) rotate(-90)" x="0" y="0" class="t" text-anchor="middle">Load carrying capacity (kN)</text>
</svg>
</body></html>
